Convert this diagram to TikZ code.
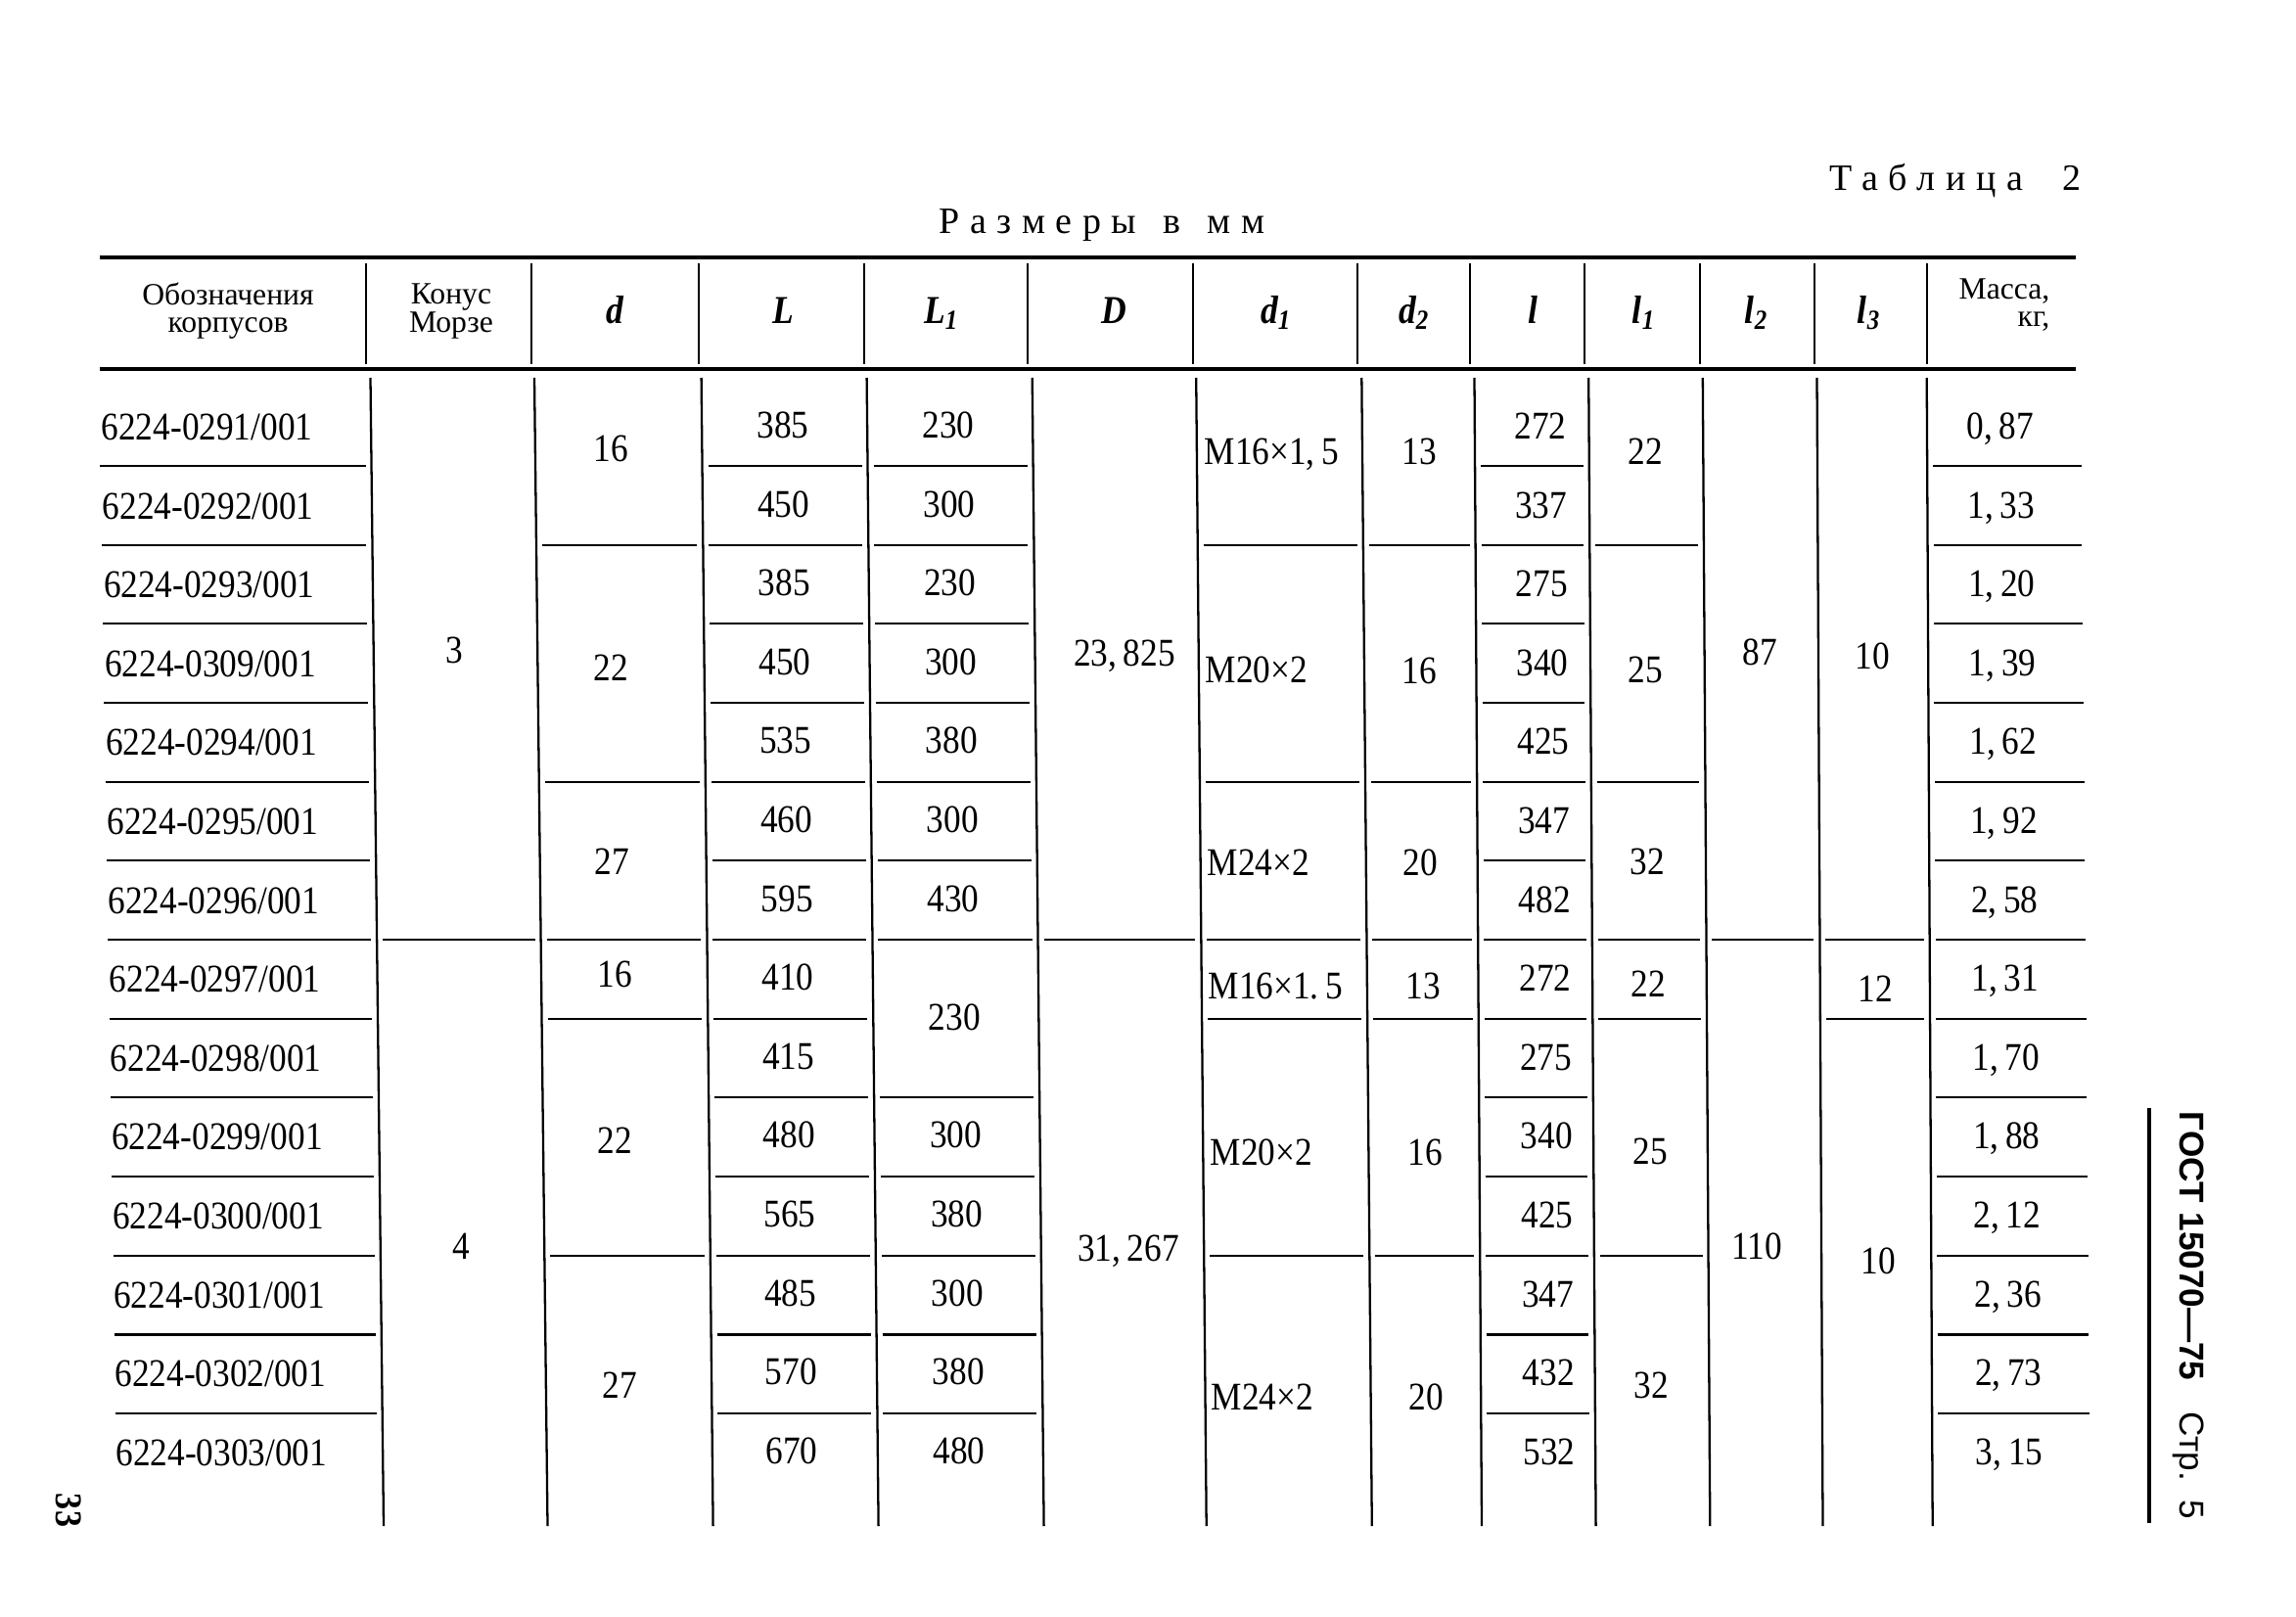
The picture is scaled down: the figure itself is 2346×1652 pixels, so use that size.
\documentclass[tikz,border=0pt]{standalone}
\usepackage{fontspec}
\setmainfont[FakeStretch=0.88]{Liberation Serif}
\setsansfont{Liberation Sans}
\newfontfamily\headfont{Liberation Serif}
\newfontfamily\spacedfont[LetterSpace=28]{Liberation Serif}
\usetikzlibrary{calc}

\tikzset{
  rule/.style={line width=1pt},
  cell/.style={line width=0.65pt},
  val/.style={font=\fontsize{11.4}{13}\selectfont, inner sep=0pt, text height=7.7pt, text depth=0pt},
  head/.style={font=\headfont\fontsize{9}{8}\selectfont, align=center, inner sep=0pt},
  sym/.style={font=\fontsize{11.5}{13}\selectfont\bfseries\itshape, inner sep=0pt, text height=8pt, text depth=0pt},
  caption/.style={font=\spacedfont\fontsize{10.8}{13}\selectfont, inner sep=0pt},
}

\begin{document}
\begin{tikzpicture}[x=0.01cm, y=-0.01cm]
  \fill[white] (0,0) rectangle (2346,1652);
  \useasboundingbox (0,0) rectangle (2346,1652);

  % titles
  \node[caption, anchor=east] (tab) at (2127,185) {Таблица\ \ 2};
  \node[caption] (units) at (1126,230) {Размеры\ \kern2pt в\ \kern2pt мм};

  % header
  \draw[rule] (102,263) -- (2121,263);
  \draw[rule] (102,377) -- (2121,377);
  \foreach \x in {374,543,714,883,1050,1219,1387,1502,1619,1737,1854,1969}
    \draw[cell] (\x,269) -- (\x,372);

  \node[head] (h-name) at (233,318) {Обозначения\\корпусов};
  \node[head] (h-cone) at (461,318) {Конус\\Морзе};
  \node[sym] (h-d)  at (628,316)  {d};
  \node[sym] (h-L)  at (800,316)  {L};
  \node[sym] (h-L1) at (962,316)  {L\textsubscript{1}};
  \node[sym] (h-D)  at (1138,316) {D};
  \node[sym] (h-d1) at (1304,316) {d\textsubscript{1}};
  \node[sym] (h-d2) at (1445,316) {d\textsubscript{2}};
  \node[sym] (h-l)  at (1566,316) {l};
  \node[sym] (h-l1) at (1680,316) {l\textsubscript{1}};
  \node[sym] (h-l2) at (1795,316) {l\textsubscript{2}};
  \node[sym] (h-l3) at (1910,316) {l\textsubscript{3}};
  \node[head, align=right] (h-mass) at (2048,312) {Масса,\\кг,};

  % body column lines (top / bottom, the scan leans a little)
  \foreach \c/\xt/\xb in {0/95/114, 1/378.5/392, 2/546/559.5, 3/716.6/728.6, 4/885.6/897.6,
      5/1054.7/1066.6, 6/1222.2/1232.7, 7/1391.3/1401.8, 8/1506.5/1514, 9/1623.2/1630.6,
      10/1739.8/1747.3, 11/1856.5/1862.5, 12/1968.7/1974.7, 13/2132/2142} {
    \coordinate (t\c) at (\xt,386);
    \coordinate (b\c) at (\xb,1559);
  }
  \foreach \c in {1,...,12}
    \draw[cell] (t\c) -- (b\c);

  % row rules, per column
  \foreach \c/\d/\rows in {0/1/{1,...,13}, 1/2/{7}, 2/3/{2,5,7,8,11}, 3/4/{1,...,13},
      4/5/{1,2,3,4,5,6,7,9,10,11,12,13}, 5/6/{7}, 6/7/{2,5,7,8,11}, 7/8/{2,5,7,8,11},
      8/9/{1,...,13}, 9/10/{2,5,7,8,11}, 10/11/{7}, 11/12/{7,8}, 12/13/{1,...,13}}
    \foreach \j in \rows {
      \pgfmathsetmacro\f{(90+80.67*(\j-1))/1173}
      \draw[cell] ($(t\c)!\f!(b\c)+(6,0)$) -- ($(t\d)!\f!(b\d)+(-6,0)$);
    }

  % designations
  \foreach \i/\nm in {1/0291, 2/0292, 3/0293, 4/0309, 5/0294, 6/0295, 7/0296,
      8/0297, 9/0298, 10/0299, 11/0300, 12/0301, 13/0302, 14/0303}
    \node[val, anchor=west] (n\i) at ({103+1.15*(\i-1)}, {436+80.6*(\i-1)}) {6224-\nm/001};

  % one value per row
  \foreach \i/\v in {1/385, 2/450, 3/385, 4/450, 5/535, 6/460, 7/595,
      8/410, 9/415, 10/480, 11/565, 12/485, 13/570, 14/670}
    \node[val] (L\i) at ({800+0.7*(\i-1)}, {434+80.6*(\i-1)}) {\v};
  \foreach \i/\v [count=\k] in {1/230, 2/300, 3/230, 4/300, 5/380, 6/300, 7/430,
      8.5/230, 10/300, 11/380, 12/300, 13/380, 14/480}
    \node[val] (Lone\k) at ({969+0.85*(\i-1)}, {434+80.6*(\i-1)}) {\v};
  \foreach \i/\v in {1/272, 2/337, 3/275, 4/340, 5/425, 6/347, 7/482,
      8/272, 9/275, 10/340, 11/425, 12/347, 13/432, 14/532}
    \node[val] (l\i) at ({1574+0.7*(\i-1)}, {435+80.6*(\i-1)}) {\v};
  \foreach \i/\a/\b in {1/0/87, 2/1/33, 3/1/20, 4/1/39, 5/1/62, 6/1/92, 7/2/58,
      8/1/31, 9/1/70, 10/1/88, 11/2/12, 12/2/36, 13/2/73, 14/3/15}
    \node[val] (m\i) at ({2044+0.7*(\i-1)}, {435+80.6*(\i-1)}) {\a,\,\b};

  % merged cells
  \node[val] (cone3) at (464,664)  {3};
  \node[val] (cone4) at (471,1273) {4};
  \foreach \x/\y/\v [count=\k] in {624/458/16, 624/682/22, 625/880/27,
      628/995/16, 628/1165/22, 633/1415/27}
    \node[val] (d\k) at (\x,\y) {\v};
  \node[val] (D1) at (1149,667)  {23,\,825};
  \node[val] (D2) at (1153,1275) {31,\,267};
  \foreach \x/\y/\a/\b [count=\k] in {1230/461/16/{1,\,5}, 1231/684/20/2, 1233/881/24/2,
      1234/1007/16/{1.\,5}, 1236/1177/20/2, 1237/1427/24/2}
    \node[val, anchor=west] (done\k) at (\x,\y) {M\a×\b};
  \foreach \x/\y/\v [count=\k] in {1450/461/13, 1450/685/16, 1451/881/20,
      1454/1007/13, 1456/1177/16, 1457/1427/20}
    \node[val] (dtwo\k) at (\x,\y) {\v};
  \foreach \x/\y/\v [count=\k] in {1681/461/22, 1681/684/25, 1683/880/32,
      1684/1005/22, 1686/1176/25, 1687/1415/32}
    \node[val] (lone\k) at (\x,\y) {\v};
  \node[val] (ltwo1) at (1798,666)  {87};
  \node[val] (ltwo2) at (1795,1273) {110};
  \node[val] (lthree1) at (1913,670)  {10};
  \node[val] (lthree2) at (1916,1010) {12};
  \node[val] (lthree3) at (1919,1288) {10};

  % margins
  \draw[line width=1.4pt] (2196,1132) -- (2196,1556);
  \node[rotate=-90, font=\sffamily\fontsize{10}{12}\selectfont, inner sep=0pt] (gost) at (2236,1344)
    {\textbf{ГОСТ 15070—75}\hspace{0.9em}Стр.\ \ 5};
  \node[rotate=-90, font=\bfseries\fontsize{11}{13}\selectfont, inner sep=0pt] (page) at (70,1543) {33};
\end{tikzpicture}
\end{document}
